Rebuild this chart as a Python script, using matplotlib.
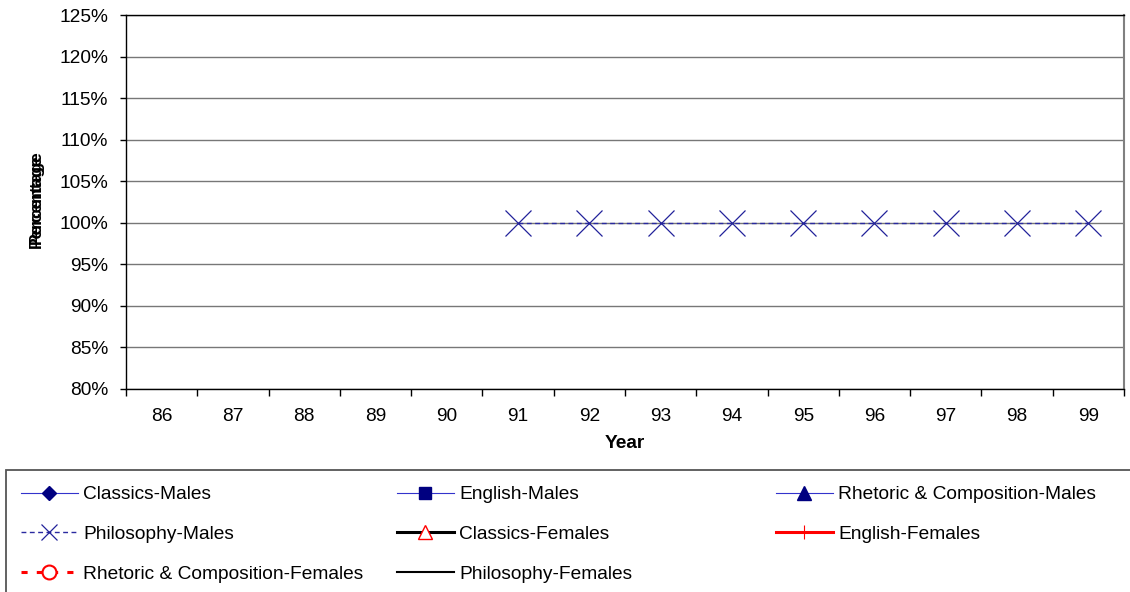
import numpy as np
import matplotlib
matplotlib.use("Agg")
import matplotlib.pyplot as plt
from matplotlib.lines import Line2D
from matplotlib.patches import Rectangle
from matplotlib.ticker import FixedLocator, FuncFormatter

plt.rcParams['font.family'] = ['Liberation Sans', 'DejaVu Sans']

years = ['86', '87', '88', '89', '90', '91', '92', '93', '94', '95', '96', '97', '98', '99']
nan = np.nan
classics_males = [nan] * 14
english_males = [nan] * 14
rhetoric_males = [nan] * 14
philosophy_males = [nan, nan, nan, nan, nan, 1.0, 1.0, 1.0, 1.0, 1.0, 1.0, 1.0, 1.0, 1.0]
classics_females = [nan] * 14
english_females = [nan] * 14
rhetoric_females = [nan] * 14
philosophy_females = [nan] * 14
y_ticks = [0.80, 0.85, 0.90, 0.95, 1.00, 1.05, 1.10, 1.15, 1.20, 1.25]

FS = 13.8
fig = plt.figure(figsize=(11.3, 5.92), dpi=100)
ax = fig.add_axes([126/1130, 1-389/592, 998/1130, (389-15)/592])
x = np.arange(len(years))

ax.plot(x, classics_males, color='#3333cc', lw=0.8, marker='D', ms=7, mfc='#000080', mec='#000080')
ax.plot(x, english_males, color='#3333cc', lw=0.8, marker='s', ms=9, mfc='#000080', mec='#000080')
ax.plot(x, rhetoric_males, color='#3333cc', lw=0.8, marker='^', ms=10, mfc='#000080', mec='#000080')
ax.plot(x, philosophy_males, color='#2a2aa0', lw=1.0, ls=(0, (3.5, 2.5)), marker='x', ms=19,
        mec='#22229a', mew=0.9, zorder=3)
ax.plot(x, classics_females, color='black', lw=2.2, marker='^', ms=10, mfc='none', mec='red')
ax.plot(x, english_females, color='red', lw=2.2, marker='+', ms=10, mec='red', mew=0.8)
ax.plot(x, rhetoric_females, color='red', lw=2.2, ls=(0, (2, 3)), marker='o', ms=10, mfc='none', mec='red', mew=1.5)
ax.plot(x, philosophy_females, color='black', lw=1.5)

ax.set_xlim(-0.5, len(years) - 0.5)
ax.set_ylim(0.80, 1.25)
ax.set_yticks(y_ticks)
ax.yaxis.set_major_formatter(FuncFormatter(lambda v, p: f"{round(v*100)}%"))
ax.set_xticks(x)
ax.set_xticklabels(years)
ax.xaxis.set_minor_locator(FixedLocator(np.arange(-0.5, len(years), 1.0)))
ax.tick_params(axis='x', which='major', length=0, pad=14, labelsize=FS)
ax.tick_params(axis='x', which='minor', length=5, width=1, direction='out')
ax.tick_params(axis='y', length=4, width=1, direction='out', pad=9, labelsize=FS)

ax.grid(axis='y', color='#777777', lw=1)
ax.set_axisbelow(True)
for s in ['left', 'bottom', 'top']:
    ax.spines[s].set_color('black')
    ax.spines[s].set_linewidth(1)
ax.spines['right'].set_color('#808080')
ax.spines['right'].set_linewidth(1.5)

ax.set_xlabel('Year', fontsize=FS, fontweight='bold', labelpad=7)

# y label (appears doubled in reference)
fig.text(36/1130, 1-197/592, 'Percentage', rotation=90, fontsize=12.5, fontweight='bold',
         ha='center', va='center')
fig.text(36/1130, 1-201/592, 'Percentage', rotation=90, fontsize=12.5, fontweight='bold',
         ha='center', va='center')

# legend handles
h_cm = Line2D([], [], color='#3333cc', lw=0.8, marker='D', ms=7, mfc='#000080', mec='#000080')
h_em = Line2D([], [], color='#3333cc', lw=0.8, marker='s', ms=9, mfc='#000080', mec='#000080')
h_rm = Line2D([], [], color='#3333cc', lw=0.8, marker='^', ms=10, mfc='#000080', mec='#000080')
h_pm = Line2D([], [], color='#2a2aa0', lw=1.0, ls=(0, (3.5, 2.5)), marker='x', ms=11.5, mec='#22229a', mew=0.9)
h_cf = Line2D([], [], color='black', lw=2.2, marker='^', ms=10, mfc='white', mec='red')
h_ef = Line2D([], [], color='red', lw=2.2, marker='+', ms=10, mec='red', mew=0.8)
h_rf = Line2D([], [], color='red', lw=2.2, ls=(0, (2, 3)), marker='o', ms=10, mfc='white', mec='red', mew=1.5)
h_pf = Line2D([], [], color='black', lw=1.5)

cols = [
    (21, [h_cm, h_pm, h_rf], ['Classics-Males', 'Philosophy-Males', 'Rhetoric & Composition-Females']),
    (397, [h_em, h_cf, h_pf], ['English-Males', 'Classics-Females', 'Philosophy-Females']),
    (776, [h_rm, h_ef], ['Rhetoric & Composition-Males', 'English-Females']),
]
for cx, hs, ls in cols:
    fig.legend(hs, ls, loc='upper left', bbox_to_anchor=(cx/1130, 1-486/592),
               frameon=False, fontsize=FS, handlelength=2.97, handletextpad=0.27,
               borderpad=0, borderaxespad=0, labelspacing=1.16)

fig.patches.append(Rectangle((6/1130, -0.1), 1.2, (592-470)/592 + 0.1, transform=fig.transFigure,
                             fill=False, edgecolor='#555555', lw=1.3))

fig.savefig('out.png', dpi=100)
